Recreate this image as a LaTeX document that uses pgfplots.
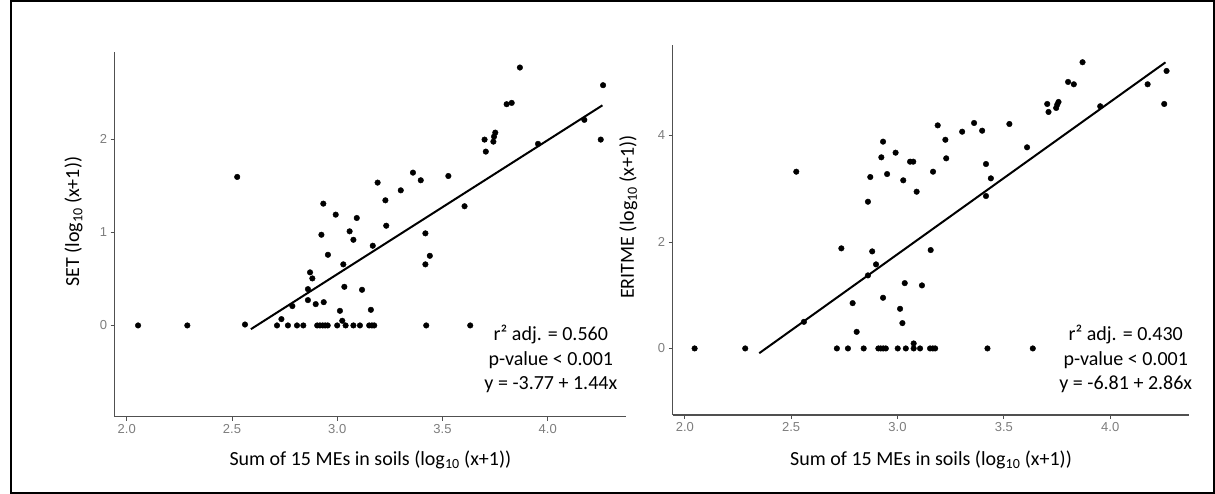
\documentclass[border=0pt]{standalone}
\usepackage{fontspec}
\setmainfont{Carlito}
\newfontfamily\tickfont{Liberation Sans}
\usepackage{pgfplots}
\usepackage{pgfplotstable}
\pgfplotsset{compat=1.18}

\definecolor{axgray}{RGB}{80,80,80}
\definecolor{tkgray}{RGB}{125,125,125}

% SET vs sum of MEs
\pgfplotstableread{
x y
2.054 0
2.288 0
2.525 1.595
2.562 0.01
2.714 0
2.735 0.068
2.766 0
2.787 0.208
2.809 0
2.839 0
2.861 0.390
2.871 0.570
2.882 0.505
2.861 0.272
2.898 0.229
2.936 0.250
2.925 0.974
2.934 1.308
2.956 0.759
2.993 1.190
3.093 1.154
3.059 1.011
3.077 0.920
3.029 0.656
3.034 0.415
3.013 0.157
3.024 0.050
2.905 0
2.918 0
2.931 0
2.943 0
2.955 0
3.000 0
3.040 0
3.077 0
3.108 0
3.118 0.383
3.169 0.856
3.160 0.168
3.152 0
3.165 0
3.176 0
3.192 1.534
3.229 1.344
3.233 1.071
3.302 1.451
3.360 1.641
3.397 1.559
3.419 0.989
3.419 0.656
3.440 0.748
3.423 0
3.528 1.605
3.605 1.280
3.632 0
3.700 1.996
3.706 1.867
3.742 1.974
3.745 2.028
3.751 2.071
3.805 2.376
3.829 2.390
3.868 2.770
3.954 1.950
4.174 2.208
4.252 1.996
4.263 2.580
}\setdata

% ERITME vs sum of MEs
\pgfplotstableread{
x y
2.046 0
2.284 0
2.524 3.320
2.560 0.500
2.715 0
2.767 0
2.736 1.880
2.789 0.851
2.808 0.312
2.841 0
2.861 1.372
2.861 2.756
2.872 3.220
2.881 1.823
2.899 1.579
2.910 0
2.921 0
2.933 0
2.945 0
2.924 3.590
2.932 3.884
2.932 0.952
2.951 3.276
2.991 3.677
3.001 0
3.012 0.745
3.023 0.476
3.027 3.158
3.034 1.227
3.039 0
3.059 3.508
3.074 3.508
3.076 0
3.076 0.094
3.090 2.944
3.106 0
3.115 1.184
3.153 0
3.156 1.848
3.166 0
3.167 3.320
3.177 0
3.189 4.190
3.225 3.920
3.229 3.571
3.304 4.071
3.360 4.235
3.398 4.090
3.416 3.464
3.416 2.863
3.423 0
3.439 3.195
3.526 4.216
3.609 3.778
3.636 0
3.704 4.592
3.710 4.442
3.746 4.517
3.751 4.579
3.757 4.630
3.802 5.006
3.829 4.962
3.870 5.376
3.953 4.549
4.176 4.962
4.254 4.592
4.265 5.212
}\eritmedata

\pgfplotsset{panel/.style={
    scale only axis,
    axis lines=left,
    axis line style={-, draw=axgray, line width=1.3pt},
    xmin=1.943, xmax=4.372,
    xtick={2,2.5,3,3.5,4},
    xticklabels={2.0,2.5,3.0,3.5,4.0},
    tick align=outside,
    major tick length=4pt,
    tick style={draw=axgray, line width=0.8pt},
    ticklabel style={font=\tickfont\fontsize{13}{13}\selectfont, text=tkgray},
    label style={font=\fontsize{20}{22}\selectfont},
    xlabel style={anchor=center},
    ylabel style={anchor=center},
    clip=false,
  },
  pts/.style={only marks, mark=*, mark size=2.8pt, mark options={fill=black, draw=black}},
  fit/.style={black, line width=2pt},
}
\tikzset{stats/.style={align=center, font=\fontsize{20}{24.5}\selectfont}}

\begin{document}
\begin{tikzpicture}
\useasboundingbox (0,0) rectangle (1215pt,494pt);
\draw[line width=1.6pt] (11pt,1pt) rectangle (1214pt,493pt);

\begin{axis}[panel,
    at={(114.7pt,77.3pt)}, anchor=south west,
    width=511.3pt, height=365pt,
    ymin=-0.98, ymax=2.94,
    ytick={0,1,2}, yticklabels={0,1,2},
    xlabel={Sum of 15 MEs in soils (log\textsubscript{10} (x+1))},
    ylabel={SET (log\textsubscript{10} (x+1))},
    xlabel style={at={(axis description cs:0.5,-0.1186)}},
    ylabel style={at={(axis description cs:-0.0804,0.534)}},
  ]
  \addplot[pts] table {\setdata};
  \addplot[fit] coordinates {(2.59,-0.040) (4.26,2.364)};
  \node[stats] at (rel axis cs:0.853,0.157) {r² adj. = 0.560\\p-value < 0.001\\y = -3.77 + 1.44x};
\end{axis}

\begin{axis}[panel,
    at={(672.7pt,79pt)}, anchor=south west,
    width=516.6pt, height=370pt,
    ymin=-1.25, ymax=5.70,
    ytick={0,2,4}, yticklabels={0,2,4},
    xlabel={Sum of 15 MEs in soils (log\textsubscript{10} (x+1))},
    ylabel={ERITME (log\textsubscript{10} (x+1))},
    xlabel style={at={(axis description cs:0.5,-0.1216)}},
    ylabel style={at={(axis description cs:-0.086,0.535)}},
  ]
  \addplot[pts] table {\eritmedata};
  \addplot[fit] coordinates {(2.35,-0.089) (4.26,5.374)};
  \node[stats] at (rel axis cs:0.877,0.1505) {r² adj. = 0.430\\p-value < 0.001\\y = -6.81 + 2.86x};
\end{axis}
\end{tikzpicture}
\end{document}
